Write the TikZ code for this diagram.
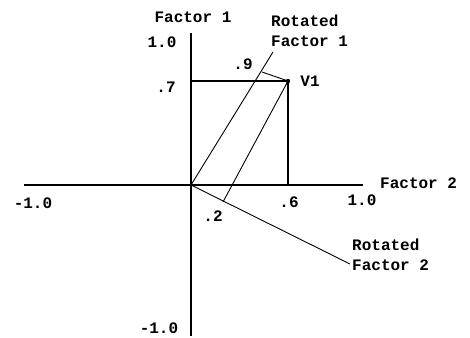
\documentclass[tikz,border=0pt]{standalone}
\usepackage{fontspec}
\setmonofont{Liberation Mono}
\begin{document}
\begin{tikzpicture}[x=1pt,y=-1pt,
  lbl/.style={font=\ttfamily\bfseries\fontsize{16}{16}\selectfont, inner sep=0pt, anchor=center},
  axis/.style={line width=1.4pt, black},
  rot/.style={line width=0.9pt, black}]
\useasboundingbox (0,0) rectangle (470,337);
% key points
\coordinate (O) at (191,185);
\coordinate (V) at (288,81);
\coordinate (XL) at (24,185);
\coordinate (XR) at (363,185);
\coordinate (YT) at (191,33);
\coordinate (YB) at (191,336);
\coordinate (Y7) at (191,81);
\coordinate (X6) at (288,185);
\coordinate (R1) at (273,52);
\coordinate (R2) at (350,264);
\coordinate (P2) at (223,202);
\coordinate (P1) at (262,72);
% axes
\draw[axis] (XL) -- (XR);
\draw[axis] (YT) -- (YB);
\draw[axis] (Y7) -- (V) -- (X6);
% rotated axes and projections
\draw[rot] (O) -- (R1);
\draw[rot] (O) -- (R2);
\draw[rot] (P2) -- (V);
\draw[rot] (V) -- (P1);
\fill (V) circle (2.2);
\fill (O) circle (1.6);
% labels
\node[lbl] (f1) at (193,17) {Factor 1};
\node[lbl] (y10) at (162,42) {1.0};
\node[lbl] (y7) at (166,87) {.7};
\node[lbl] (l9) at (243,64) {.9};
\node[lbl] (v1) at (310,81) {V1};
\node[lbl, anchor=west] (rf1a) at (271,21) {Rotated};
\node[lbl, anchor=west] (rf1b) at (271,41) {Factor 1};
\node[lbl, anchor=west] (f2) at (380,183) {Factor 2};
\node[lbl] (x6) at (289,202) {.6};
\node[lbl] (x10) at (362,200) {1.0};
\node[lbl] (l2) at (213,216) {.2};
\node[lbl] (xm10) at (33,203) {-1.0};
\node[lbl] (ym10) at (159,328) {-1.0};
\node[lbl, anchor=west] (rf2a) at (352,245) {Rotated};
\node[lbl, anchor=west] (rf2b) at (352,265) {Factor 2};
\end{tikzpicture}
\end{document}
